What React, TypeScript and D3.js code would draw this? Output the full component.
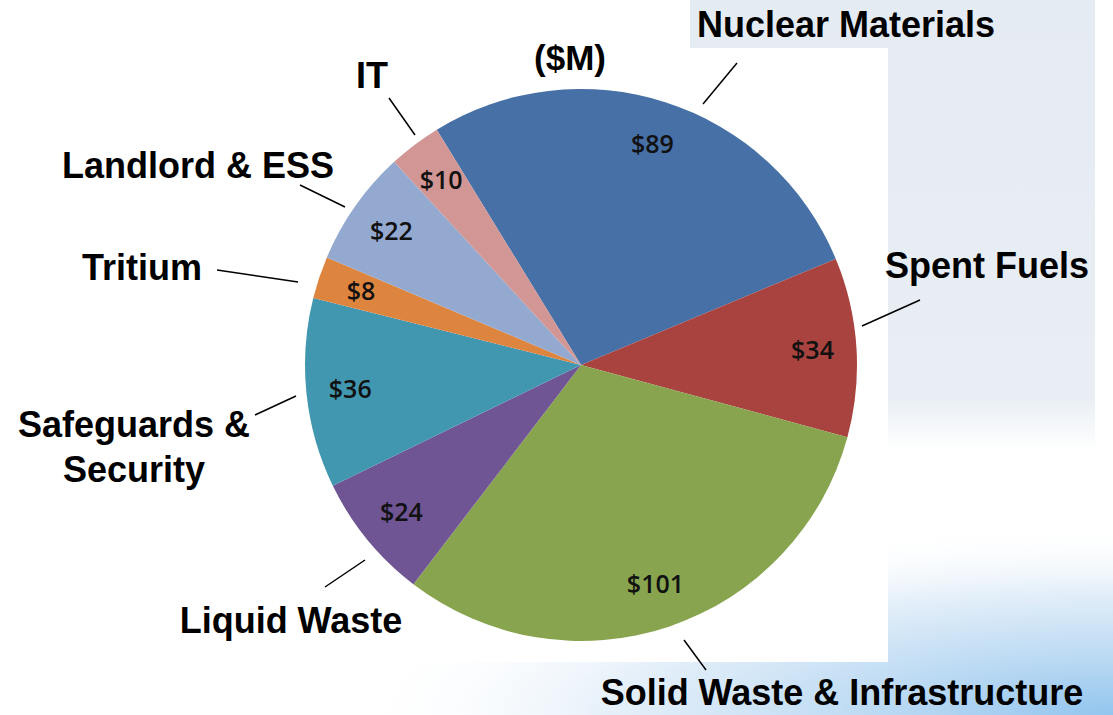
import React from 'react';
import * as d3 from 'd3';

const categories = ['Nuclear Materials', 'Spent Fuels', 'Solid Waste & Infrastructure', 'Liquid Waste', 'Safeguards & Security', 'Tritium', 'Landlord & ESS', 'IT'];
const values = [89, 34, 101, 24, 36, 8, 22, 10];
const colors = ['#4670A6', '#A8433F', '#88A44E', '#6F5593', '#4297B0', '#DD843E', '#93A9D0', '#D29694'];

// outside label text lines, anchor point (middle/baseline) and leader line
const labelLines = [['Nuclear Materials'], ['Spent Fuels'], ['Solid Waste & Infrastructure'], ['Liquid Waste'], ['Safeguards &', 'Security'], ['Tritium'], ['Landlord & ESS'], ['IT']];
const labelPos = [[846, 37], [987, 278], [842, 705], [291, 633], [134, 437], [142, 280], [198, 178], [372, 88]];
const leaders = [[[737, 63], [703, 104]], [[920, 300], [862, 326]], [[706, 670], [684, 640]], [[325, 587], [365, 560]], [[255, 415], [296, 396]], [[217, 270], [298, 282]], [[300, 185], [345, 207]], [[389, 98], [415, 135]]];

const W = 1113;
const H = 715;

export default function App() {
  const cx = 581;
  const cy = 365;
  const r = 276;
  const start = (-31.5 * Math.PI) / 180;

  const pie = d3.pie<number>().sort(null).value(d => d)
    .startAngle(start).endAngle(start + 2 * Math.PI);
  const arcs = pie(values);
  const arc = d3.arc<d3.PieArcDatum<number>>().innerRadius(0).outerRadius(r);
  const labelArc = d3.arc<d3.PieArcDatum<number>>().innerRadius(232).outerRadius(232);

  const font = "'Liberation Sans', Arial, sans-serif";

  return (
    <svg width={W} height={H} style={{ position: 'absolute', left: 0, top: 0 }}>
      <defs>
        <linearGradient id="seal" x1="0" y1="0" x2="0" y2="1">
          <stop offset="0%" stopColor="#e5ebf2" />
          <stop offset="88%" stopColor="#e8eef4" />
          <stop offset="100%" stopColor="#ffffff" />
        </linearGradient>
        <radialGradient id="sky" cx={0} cy={0} r={900} gradientUnits="userSpaceOnUse"
          gradientTransform={`translate(${W},${H}) scale(1,0.25)`}>
          <stop offset="0%" stopColor="#93c5ee" />
          <stop offset="25%" stopColor="#bad9f3" />
          <stop offset="55%" stopColor="#e4eff9" />
          <stop offset="85%" stopColor="#ffffff" stopOpacity={0} />
        </radialGradient>
      </defs>
      <rect x={0} y={0} width={W} height={H} fill="#ffffff" />
      <rect x={690} y={0} width={405} height={450} fill="url(#seal)" />
      <rect x={0} y={0} width={W} height={H} fill="url(#sky)" />
      <rect x={0} y={48} width={888} height={614} fill="#ffffff" />

      <g transform={`translate(${cx},${cy})`}>
        {arcs.map((a, i) => (
          <path key={categories[i]} d={arc(a) || ''} fill={colors[i]} />
        ))}
        {arcs.map((a, i) => {
          const [x, y] = labelArc.centroid(a);
          return (
            <text key={'v' + i} x={x} y={y} dy="0.35em" textAnchor="middle"
              fontFamily="'Open Sans', 'Noto Sans', sans-serif" fontWeight={600} fontSize={25} fill="#111">
              ${values[i]}
            </text>
          );
        })}
      </g>

      <text x={570} y={70} textAnchor="middle" fontFamily={font}
        fontWeight="bold" fontSize={35} fill="#000">($M)</text>

      {categories.map((c, i) => (
        <g key={'l' + c}>
          <line x1={leaders[i][0][0]} y1={leaders[i][0][1]} x2={leaders[i][1][0]} y2={leaders[i][1][1]}
            stroke="#000" strokeWidth={1.5} />
          {labelLines[i].map((t, j) => (
            <text key={t} x={labelPos[i][0]} y={labelPos[i][1] + j * 45} textAnchor="middle"
              fontFamily={font} fontWeight="bold" fontSize={36} fill="#000">
              {t}
            </text>
          ))}
        </g>
      ))}
    </svg>
  );
}
